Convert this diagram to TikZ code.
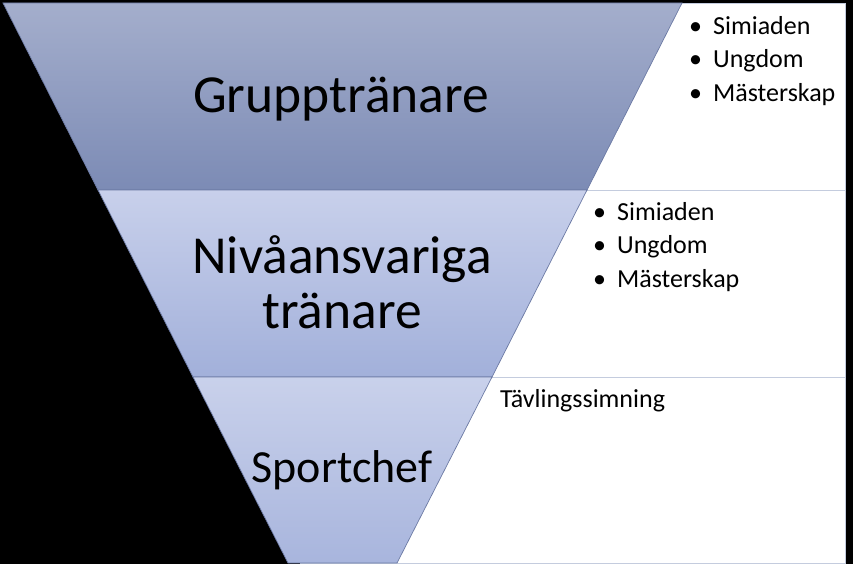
\documentclass[tikz,border=0pt]{standalone}
\usepackage{fontspec}
\setmainfont{Carlito}
\definecolor{topband}{RGB}{164,174,204}
\definecolor{topbandlow}{RGB}{124,139,181}
\definecolor{midband}{RGB}{200,208,235}
\definecolor{midbandlow}{RGB}{162,176,218}
\definecolor{lowband}{RGB}{201,209,235}
\definecolor{lowbandlow}{RGB}{168,181,221}
\definecolor{edgeblue}{RGB}{108,122,164}
\definecolor{panelline}{RGB}{196,204,222}

\begin{document}
\begin{tikzpicture}[
  x=1pt, y=-1pt,
  band/.style={draw=edgeblue, line width=0.7pt},
  panel/.style={fill=white, draw=panelline, line width=0.8pt},
  title/.style={font=\fontsize{53.5}{55}\selectfont, align=center, inner sep=0pt},
  items/.style={font=\fontsize{26}{33.5}\selectfont, align=left, inner sep=0pt, anchor=north west}
]
\fill[black] (0,0) rectangle (853,564);

% text panels to the right of the funnel
\draw[panel] (300,3) rectangle (845,190);
\draw[panel] (300,190) rectangle (845,377);
\draw[panel] (300,377) rectangle (845,563);

% funnel
\shade[band, top color=topband, bottom color=topbandlow]
  (3,3) -- (682,3) -- (587,190) -- (98,190) -- cycle;
\shade[band, top color=midband, bottom color=midbandlow]
  (98,190) -- (587,190) -- (492,377) -- (193,377) -- cycle;
\shade[band, top color=lowband, bottom color=lowbandlow]
  (193,377) -- (492,377) -- (397,563) -- (288,563) -- cycle;

\node[title, anchor=base] (grupp) at (341,113) {Grupptränare};
\node[title] (niva) at (342,282) {Nivåansvariga\\tränare};
\node[title, font=\fontsize{46}{50}\selectfont, anchor=base] (chef) at (342,482) {Sportchef};

\node[items] (list1) at (689,16) {\textbullet\hspace{11pt}Simiaden\\\textbullet\hspace{11pt}Ungdom\\\textbullet\hspace{11pt}Mästerskap};
\node[items] (list2) at (593,202) {\textbullet\hspace{11pt}Simiaden\\\textbullet\hspace{11pt}Ungdom\\\textbullet\hspace{11pt}Mästerskap};
\node[font=\fontsize{26}{30}\selectfont, inner sep=0pt, anchor=base west] (tavling) at (500,407) {Tävlingssimning};
\end{tikzpicture}
\end{document}
